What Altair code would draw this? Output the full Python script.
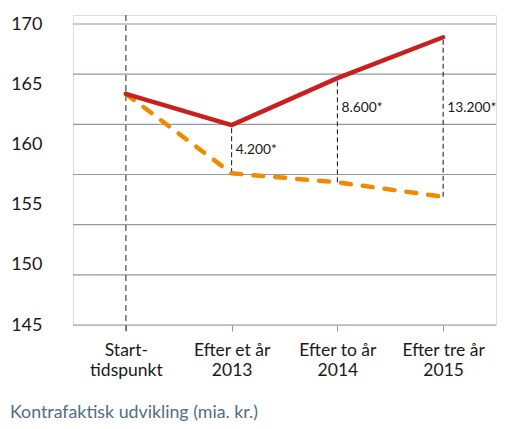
import altair as alt
import pandas as pd

categories = ["Start-|tidspunkt", "Efter et år|2013", "Efter to år|2014", "Efter tre år|2015"]
faktisk = [164.2, 161.6, 165.5, 168.9]
kontrafaktisk = [164.2, 157.6, 156.85, 155.65]
diff_labels = ["", "4.200*", "8.600*", "13.200*"]
label_y = [None, 159.5, 163.0, 163.0]
y_ticks = [145, 150, 155, 160, 165, 170]
grid_values = [145 + k * 25 / 6 for k in range(7)]
legend_text = ["Kontrafaktisk udvikling (mia. kr.)"]

FONT = "Lato"
W, H = 423, 310
ymin, ymax = 145, 145 + 310 / 12.04

df = pd.DataFrame({"cat": categories, "faktisk": faktisk, "kontra": kontrafaktisk,
                   "lab": diff_labels, "laby": label_y})
grid_df = pd.DataFrame({"g": grid_values})

xsc = alt.Scale(type="point", padding=0.5, domain=categories)
ysc = alt.Scale(domain=[ymin, ymax], nice=False, zero=False)

xaxis = alt.Axis(title=None, labelExpr="split(datum.label, '|')", labelFont=FONT,
                 labelFontSize=17.5, labelColor="#1a1a1a", labelLineHeight=20,
                 labelPadding=10, tickSize=6, tickColor="#8a9aa8", domain=False,
                 grid=False, labelAngle=0)
yaxis = alt.Axis(title=None, values=y_ticks, labelFont=FONT, labelFontSize=18,
                 labelColor="#1a1a1a", tickSize=0, labelPadding=31, domain=False,
                 grid=False)

grid = alt.Chart(grid_df).mark_rule(color="#8a9aa8", strokeWidth=1.2).encode(
    y=alt.Y("g:Q", scale=ysc, axis=yaxis))

start_df = df[df["cat"] == categories[0]]
start_line = alt.Chart(start_df).mark_rule(color="#555555", strokeDash=[6, 4], strokeWidth=1.3).encode(
    x=alt.X("cat:N", scale=xsc, axis=xaxis, sort=categories),
    y=alt.value(0), y2=alt.value(317))

diff_df = df[df["cat"] != categories[0]]
diff_lines = alt.Chart(diff_df).mark_rule(color="#111111", strokeDash=[5, 3], strokeWidth=1).encode(
    x=alt.X("cat:N", scale=xsc, sort=categories),
    y=alt.Y("kontra:Q", scale=ysc), y2="faktisk:Q")

kontra_line = alt.Chart(df).mark_line(color="#f08a00", strokeWidth=4.5, strokeDash=[10, 12],
                                      strokeCap="round").encode(
    x=alt.X("cat:N", scale=xsc, sort=categories),
    y=alt.Y("kontra:Q", scale=ysc))

fakt_line = alt.Chart(df).mark_line(color="#c8201f", strokeWidth=4.5, strokeCap="round",
                                    strokeJoin="miter").encode(
    x=alt.X("cat:N", scale=xsc, sort=categories),
    y=alt.Y("faktisk:Q", scale=ysc))

labels = alt.Chart(diff_df).mark_text(align="left", baseline="middle", dx=4, font=FONT,
                                      fontSize=13.8, color="#1a1a1a").encode(
    x=alt.X("cat:N", scale=xsc, sort=categories),
    y=alt.Y("laby:Q", scale=ysc), text="lab:N")

legend = alt.Chart(pd.DataFrame({"t": legend_text})).mark_text(
    align="right", baseline="middle", font=FONT, fontSize=17.8, color="#4e6e85").encode(
    x=alt.value(185), y=alt.value(398), text="t:N")

chart = alt.layer(grid, start_line, diff_lines, kontra_line, fakt_line, labels, legend).properties(
    width=W, height=H,
    autosize=alt.AutoSizeParams(type="none"),
    padding={"left": 65, "top": 7, "right": 1, "bottom": 96},
).configure_view(stroke=None).configure(background="white")

chart.save("out.html", embed_options={"renderer": "svg", "actions": False})
